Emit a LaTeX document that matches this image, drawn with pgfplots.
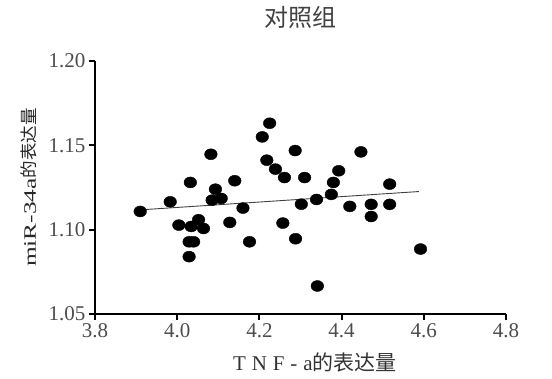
\documentclass[border=0pt]{standalone}
\usepackage{fontspec}
\setmainfont{Liberation Serif}
\newfontfamily\cjk{Noto Sans CJK SC}
\usepackage{pgfplots}
\pgfplotsset{compat=1.18}
\begin{document}
\begin{tikzpicture}
\useasboundingbox (-95pt,-65pt) rectangle (457pt,314pt);
\begin{axis}[
  at={(0,0)}, anchor=south west,
  width=411pt, height=253pt, scale only axis,
  xmin=3.8, xmax=4.8, ymin=1.05, ymax=1.20,
  xtick={3.8,4.0,4.2,4.4,4.6,4.8},
  ytick={1.05,1.10,1.15,1.20},
  axis lines=left,
  axis line style={-, line width=2.2pt, black},
  tick style={line width=2pt, black},
  major tick length=6pt, tick align=outside,
  /pgf/number format/assume math mode=true,
  ticklabel style={font=\fontsize{21}{22}\selectfont, text=black!70},
  xticklabel style={/pgf/number format/.cd, fixed, fixed zerofill, precision=1},
  yticklabel style={/pgf/number format/.cd, fixed, fixed zerofill, precision=2},
  title={\cjk 对照组},
  title style={font=\fontsize{24}{25}\selectfont, text=black!75, at={(axis description cs:0.5,1.15)}, anchor=center},
  xlabel={{\addfontfeature{LetterSpace=28}TNF-a}{\cjk 的表达量}},
  xlabel style={font=\fontsize{21}{22}\selectfont, text=black!80, at={(axis description cs:0.535,-0.19)}, anchor=center},
  ylabel={\scalebox{1.45}[1]{miR-34a}{\cjk 的表达量}},
  ylabel style={font=\fontsize{17.5}{18}\selectfont, text=black!85, at={(axis description cs:-0.16,0.5)}, anchor=center},
  clip=false,
]
\addplot[black!75, line width=0.9pt] coordinates {(3.914,1.1118) (4.588,1.1226)};
\addplot[only marks, mark=*, mark size=5.5pt, mark options={xscale=1.15, fill=black, draw=black}] coordinates {
(3.910,1.1108) (3.983,1.1165) (4.004,1.1027) (4.032,1.1280) (4.034,1.1019)
(4.029,1.0928) (4.040,1.0928) (4.029,1.0840) (4.052,1.1059) (4.064,1.1007)
(4.082,1.1447) (4.085,1.1175) (4.093,1.1240) (4.107,1.1185) (4.128,1.1043)
(4.140,1.1290) (4.160,1.1128) (4.176,1.0928) (4.207,1.1550) (4.225,1.1631)
(4.218,1.1412) (4.239,1.1359) (4.261,1.1309) (4.257,1.1039) (4.287,1.1469)
(4.288,1.0946) (4.302,1.1151) (4.310,1.1309) (4.339,1.1179) (4.341,1.0666)
(4.375,1.1209) (4.380,1.1280) (4.393,1.1349) (4.420,1.1138) (4.447,1.1461)
(4.472,1.1150) (4.472,1.1078) (4.517,1.1270) (4.517,1.1150) (4.592,1.0885)
};
\end{axis}
\end{tikzpicture}
\end{document}
